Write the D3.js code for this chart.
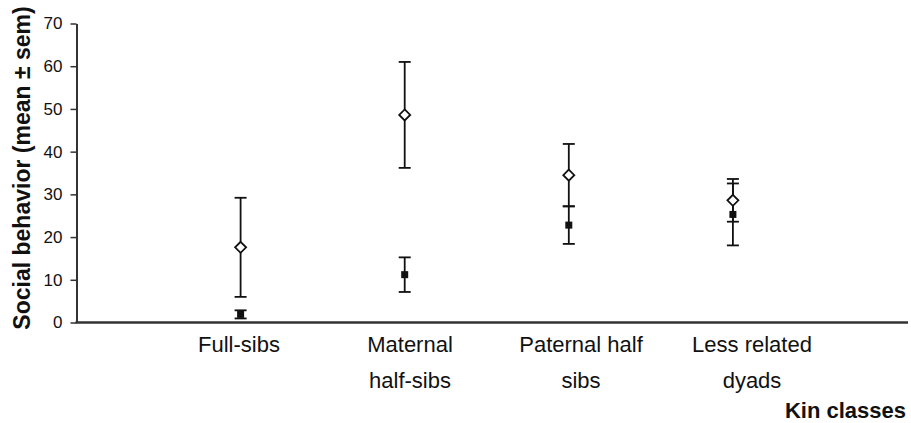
<!DOCTYPE html>
<html>
<head>
<meta charset="utf-8">
<script src="https://cdn.jsdelivr.net/npm/d3@7"></script>
<style>
  body { margin: 0; background: #fff; }
  text { font-family: "Liberation Sans", Arial, sans-serif; }
</style>
</head>
<body>
<script>
const categories = ["Full-sibs", "Maternal half-sibs", "Paternal half sibs", "Less related dyads"];
const labelLines = [["Full-sibs"], ["Maternal", "half-sibs"], ["Paternal half", "sibs"], ["Less related", "dyads"]];
const openMean = [17.6, 48.6, 34.5, 28.6];
const openSem = [11.6, 12.4, 7.3, 5.0];
const filledMean = [1.9, 11.2, 22.8, 25.3];
const filledSem = [0.95, 4.05, 4.4, 7.25];
const yTicks = [0, 10, 20, 30, 40, 50, 60, 70];

const W = 911, H = 423;
const margin = { top: 23.5, left: 76.5 },
  plotBottom = 322.5,
  plotRight = 908;

const svg = d3.select("body").append("svg")
  .attr("width", W)
  .attr("height", H);

const y = d3.scaleLinear().domain([0, 70]).range([plotBottom, margin.top]);
const x = d3.scalePoint().domain(categories).range([margin.left, 897]).padding(1);
const xLabel = d3.scalePoint().domain(categories).range([239, 752]);

// y axis
const yAxis = svg.append("g")
  .attr("transform", "translate(" + margin.left + ",0)")
  .call(d3.axisLeft(y).tickValues(yTicks).tickSize(6).tickPadding(8).tickSizeOuter(0));
yAxis.select(".domain").attr("stroke", "#333").attr("stroke-width", 2);
yAxis.selectAll(".tick line").attr("stroke", "#333").attr("stroke-width", 1.5);
yAxis.selectAll(".tick text")
  .attr("font-size", 17)
  .attr("fill", "#111")
  .attr("font-family", "Liberation Sans, Arial, sans-serif");

// x axis line
svg.append("line")
  .attr("x1", margin.left - 1).attr("x2", plotRight)
  .attr("y1", plotBottom).attr("y2", plotBottom)
  .attr("stroke", "#333").attr("stroke-width", 2.5);

// category labels
const lab = svg.append("g").selectAll("text")
  .data(categories)
  .join("text")
  .attr("text-anchor", "middle")
  .attr("font-size", 22)
  .attr("fill", "#111")
  .attr("x", (d) => xLabel(d))
  .attr("y", 352);
lab.selectAll("tspan")
  .data((d, i) => labelLines[i])
  .join("tspan")
  .attr("x", function () { return this.parentNode.getAttribute("x"); })
  .attr("dy", (d, i) => (i === 0 ? 0 : 36))
  .text((d) => d);

// axis titles
svg.append("text")
  .attr("transform", "translate(30," + 168 + ") rotate(-90)")
  .attr("text-anchor", "middle")
  .attr("font-size", 23)
  .attr("font-weight", "bold")
  .attr("fill", "#111")
  .text("Social behavior (mean \u00b1 sem)");

svg.append("text")
  .attr("x", 906)
  .attr("y", 418)
  .attr("text-anchor", "end")
  .attr("font-size", 22)
  .attr("font-weight", "bold")
  .attr("fill", "#111")
  .text("Kin classes");

// error bars
function errorBars(means, sems) {
  const g = svg.append("g").attr("stroke", "#111").attr("stroke-width", 1.8);
  categories.forEach((c, i) => {
    const cx = x(c), lo = y(means[i] - sems[i]), hi = y(means[i] + sems[i]);
    g.append("line").attr("x1", cx).attr("x2", cx).attr("y1", lo).attr("y2", hi);
    g.append("line").attr("x1", cx - 6).attr("x2", cx + 6).attr("y1", lo).attr("y2", lo);
    g.append("line").attr("x1", cx - 6).attr("x2", cx + 6).attr("y1", hi).attr("y2", hi);
  });
}
errorBars(openMean, openSem);
errorBars(filledMean, filledSem);

// filled squares
svg.append("g").selectAll("rect")
  .data(categories)
  .join("rect")
  .attr("x", (d) => x(d) - 3.5)
  .attr("y", (d, i) => y(filledMean[i]) - 3.5)
  .attr("width", 7)
  .attr("height", 7)
  .attr("fill", "#111");

// open diamonds
svg.append("g").selectAll("path")
  .data(categories)
  .join("path")
  .attr("transform", (d, i) => "translate(" + x(d) + "," + y(openMean[i]) + ")")
  .attr("d", "M0,-5.5 L5.5,0 L0,5.5 L-5.5,0 Z")
  .attr("fill", "#fff")
  .attr("stroke", "#111")
  .attr("stroke-width", 1.8);
</script>
</body>
</html>
